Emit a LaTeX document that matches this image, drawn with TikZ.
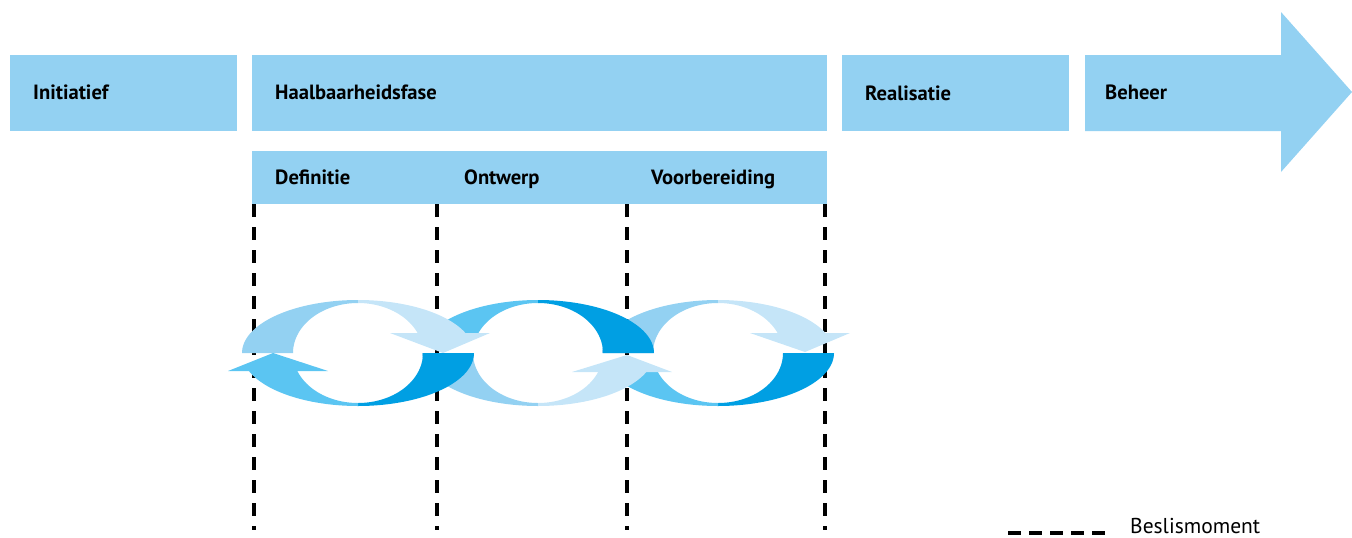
\documentclass[tikz,border=0pt]{standalone}
\usepackage{fontspec}
\setmainfont{PT Sans}
\definecolor{boxblue}{HTML}{93D1F2}
\definecolor{cLight}{HTML}{93D1F2}
\definecolor{cLightest}{HTML}{C5E5F8}
\definecolor{cMedium}{HTML}{5BC5F2}
\definecolor{cDark}{HTML}{009FE3}
\newcommand{\cyclepiece}[4]{%
  \fill[#4] plot[domain=#2:#3, samples=40, variable=\t, smooth] ({#1+116*cos(\t)},{353+53*sin(\t)})
   -- plot[domain=#3:#2, samples=40, variable=\t, smooth] ({#1+65*cos(\t)},{353+50*sin(\t)}) -- cycle;}
\begin{document}
\begin{tikzpicture}[x=1pt,y=-1pt,
  phasebox/.style={fill=boxblue, draw=none, inner sep=0, anchor=north west},
  lbl/.style={anchor=base west, inner sep=0, font=\bfseries\fontsize{20.6}{24}\selectfont},
  beslis/.style={draw=black, line width=3.6pt, dash pattern=on 13pt off 10pt},
  legenddash/.style={draw=black, line width=4pt, dash pattern=on 13pt off 8pt}]
\useasboundingbox (0,0) rectangle (1352,538);

% decision lines
\foreach \n/\xx in {1/254,2/437,3/627,4/825}{
  \coordinate (d\n t) at (\xx,204);
  \coordinate (d\n b) at (\xx,530);
  \draw[beslis] (d\n t) -- (d\n b);
}

% cycle 3 (Voorbereiding)
\cyclepiece{718}{180}{270}{cLight}
\cyclepiece{718}{270}{338}{cLightest}
\fill[cLightest] (750,333) -- (850,333) -- (805,352) -- cycle;
\cyclepiece{718}{0}{90}{cDark}
\cyclepiece{718}{90}{160}{cMedium}

% cycle 2 (Ontwerp)
\cyclepiece{538}{203}{270}{cMedium}
\cyclepiece{538}{270}{360}{cDark}
\cyclepiece{538}{90}{180}{cLight}
\cyclepiece{538}{20}{90}{cLightest}
\fill[cLightest] (572,372) -- (672,372) -- (627,355) -- cycle;

% cycle 1 (Definitie)
\cyclepiece{358}{180}{270}{cLight}
\cyclepiece{358}{270}{338}{cLightest}
\fill[cLightest] (390,333) -- (490,333) -- (443,353) -- cycle;
\cyclepiece{358}{0}{90}{cDark}
\cyclepiece{358}{90}{160}{cMedium}
\fill[cMedium] (228,371) -- (328,371) -- (273,353) -- cycle;

% phase boxes
\node[phasebox, minimum width=227pt, minimum height=76pt] (init) at (10,55) {};
\node[phasebox, minimum width=575pt, minimum height=76pt] (haal) at (252,55) {};
\node[phasebox, minimum width=575pt, minimum height=53pt] (sub) at (252,151) {};
\node[phasebox, minimum width=227pt, minimum height=76pt] (real) at (842,55) {};
\fill[boxblue] (1085,55) -- (1281,55) -- (1281,12) -- (1352,92) -- (1281,172) -- (1281,131) -- (1085,131) -- cycle;
\coordinate (beh) at (1085,55);

% labels
\node[lbl] (tInit) at (33,99) {Initiatief};
\node[lbl] (tHaal) at (275,99) {Haalbaarheidsfase};
\node[lbl] (tReal) at (865,100) {Realisatie};
\node[lbl] (tBeh) at (1105,99) {Beheer};
\node[lbl] (tDef) at (275,184) {Definitie};
\node[lbl] (tOnt) at (464,184) {Ontwerp};
\node[lbl] (tVoor) at (651,184) {Voorbereiding};

% legend
\coordinate (lga) at (1008,533);
\coordinate (lgb) at (1105,533);
\draw[legenddash] (lga) -- (lgb);
\node[anchor=base west, inner sep=0, font=\fontsize{21.5}{25}\selectfont] (tBes) at (1130,533) {Beslismoment};
\end{tikzpicture}
\end{document}
